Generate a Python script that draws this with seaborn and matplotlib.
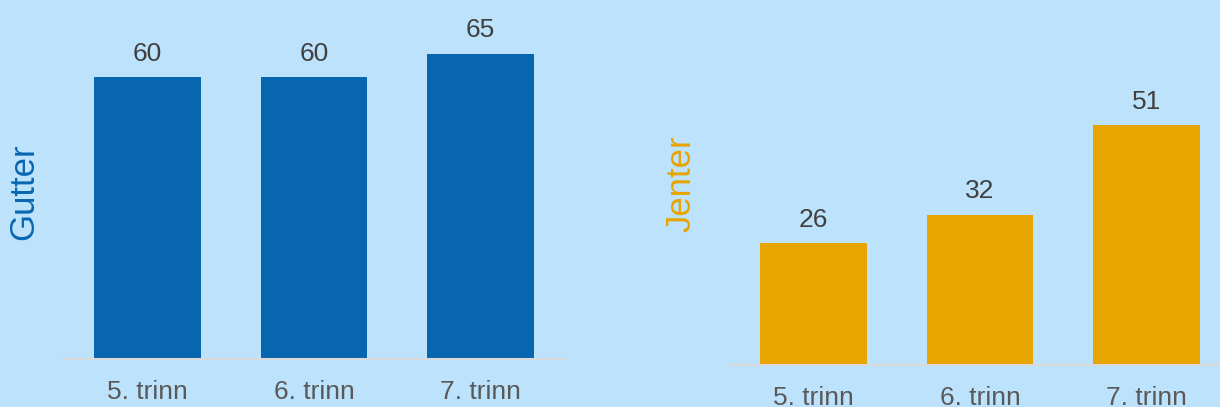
import matplotlib
matplotlib.use("Agg")
import matplotlib.pyplot as plt
import seaborn as sns

# data
trinn = ["5. trinn", "6. trinn", "7. trinn"]
gutter = [60, 60, 65]
jenter = [26, 32, 51]

bg = "#BDE3FC"
blue = "#0866B0"
orange = "#E8A400"

sns.set_style("white")
plt.rcParams['font.family'] = ['Liberation Sans', 'DejaVu Sans']

fig = plt.figure(figsize=(12.2, 4.07), dpi=100, facecolor=bg)
W, H = 1220, 407

ax1 = fig.add_axes([64 / W, 48 / H, 500 / W, 329 / H])
ax2 = fig.add_axes([730 / W, 42 / H, 500 / W, 329 / H])

panels = [(ax1, gutter, blue, "Gutter"), (ax2, jenter, orange, "Jenter")]

for ax, vals, col, name in panels:
    ax.set_facecolor(bg)
    sns.barplot(x=trinn, y=vals, color=col, saturation=1, width=0.64,
                linewidth=0, edgecolor="none", ax=ax)
    ax.set_xlim(-0.5, 2.5)
    ax.set_ylim(0, 70)
    ax.bar_label(ax.containers[0], padding=8, fontsize=19, color="#404040")
    for s in ["top", "right", "left"]:
        ax.spines[s].set_visible(False)
    ax.spines["bottom"].set_color("#D9D9D9")
    ax.spines["bottom"].set_linewidth(1.5)
    ax.set_yticks([])
    ax.tick_params(axis="x", length=0, pad=15, labelsize=19, labelcolor="#595959")
    ax.set_ylabel(name, fontsize=25, color=col, va="center")

ax1.yaxis.set_label_coords(-0.08, 0.51)
ax2.yaxis.set_label_coords(-0.098, 0.55)

fig.savefig("out.png", dpi=100, facecolor=bg)
